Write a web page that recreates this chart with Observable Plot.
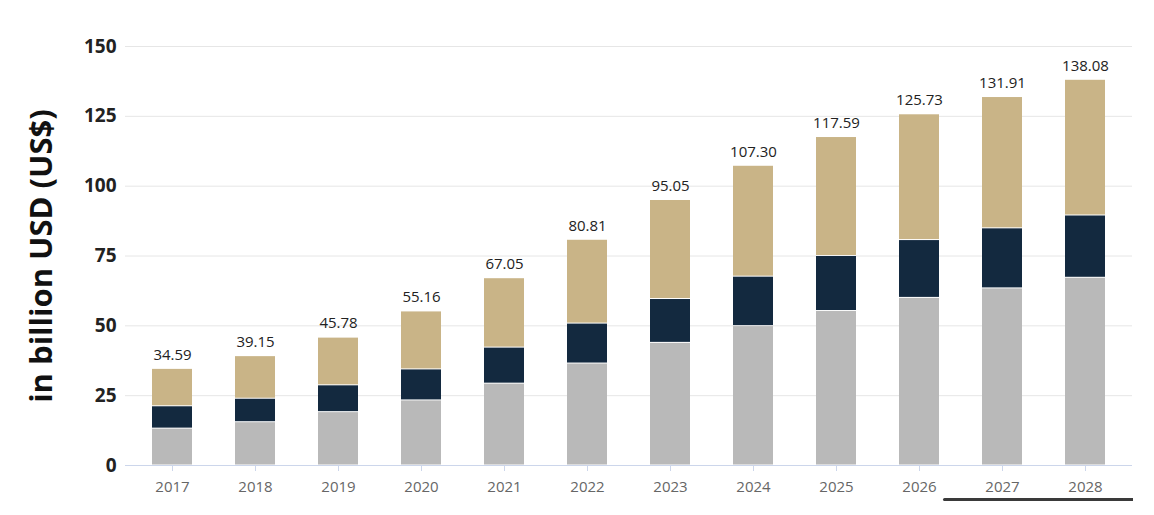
<!DOCTYPE html>
<html>
<head>
<meta charset="utf-8">
<script src="https://cdn.jsdelivr.net/npm/d3@7"></script>
<script src="https://cdn.jsdelivr.net/npm/@observablehq/plot@0.6"></script>
<style>
  html, body { margin: 0; padding: 0; background: #fff; }
  #wrap { position: relative; width: 1154px; height: 515px; overflow: hidden; }
  #scrollbar { position: absolute; left: 943px; top: 498px; width: 190px; height: 3px; background: #3a3a3a; border-radius: 2px 0 0 2px; }
</style>
</head>
<body>
<div id="wrap"><div id="chart"></div><div id="scrollbar"></div></div>
<script>
const years = ["2017","2018","2019","2020","2021","2022","2023","2024","2025","2026","2027","2028"];
const totals = [34.59, 39.15, 45.78, 55.16, 67.05, 80.81, 95.05, 107.30, 117.59, 125.73, 131.91, 138.08];
const seriesNames = ["Segment 1", "Segment 2", "Segment 3"];
const seriesColors = ["#b9b9b9", "#13293f", "#c9b487"];
// bottom segment (gray)
const seg1 = [13.2, 15.5, 19.1, 23.3, 29.3, 36.5, 43.9, 49.9, 55.3, 60.0, 63.4, 67.2];
// middle segment (navy)
const seg2 = [8.0, 8.4, 9.6, 11.1, 12.9, 14.3, 15.7, 17.7, 19.7, 20.7, 21.5, 22.3];
// top segment (tan)
const seg3 = [13.39, 15.25, 17.08, 20.76, 24.85, 30.01, 35.45, 39.70, 42.59, 45.03, 47.01, 48.58];
const yTicks = [0, 25, 50, 75, 100, 125, 150];

const rows = [];
years.forEach((y, i) => {
  [seg1, seg2, seg3].forEach((s, j) => rows.push({year: y, series: seriesNames[j], value: s[i]}));
});
const totalRows = years.map((y, i) => ({year: y, total: totals[i]}));

const chart = Plot.plot({
  width: 1154,
  height: 515,
  marginTop: 46,
  marginBottom: 50,
  marginLeft: 125,
  marginRight: 22,
  style: {fontFamily: "'Open Sans', sans-serif", background: "#fff", overflow: "visible"},
  x: {domain: years, paddingInner: 0.52, paddingOuter: 0.3, label: null},
  y: {domain: [0, 150], label: null},
  color: {domain: seriesNames, range: seriesColors},
  marks: [
    Plot.gridY(yTicks, {stroke: "#e6e6e6", strokeOpacity: 1}),
    Plot.axisY(yTicks, {tickSize: 0, tickPadding: 9, fontSize: 19, fontWeight: "bold", fill: "#222", label: null}),
    Plot.axisX({tickSize: 6, stroke: "#ccd6eb", tickPadding: 10, fontSize: 15, fill: "#666", label: null}),
    Plot.barY(rows, {x: "year", y: "value", fill: "series", order: seriesNames, insetTop: 0.5, insetBottom: 0.5}),
    Plot.ruleY([0], {stroke: "#ccd6eb"}),
    Plot.text(totalRows, {x: "year", y: "total", text: d => d.total.toFixed(2), dy: -14, fontSize: 15, fill: "#222", fontWeight: 500}),
    Plot.text(["in billion USD (US$)"], {frameAnchor: "left", textAnchor: "middle", dx: -83, rotate: -90, fontSize: 31, fontWeight: "bold", fill: "#111"})
  ]
});
document.getElementById("chart").appendChild(chart);
</script>
</body>
</html>
